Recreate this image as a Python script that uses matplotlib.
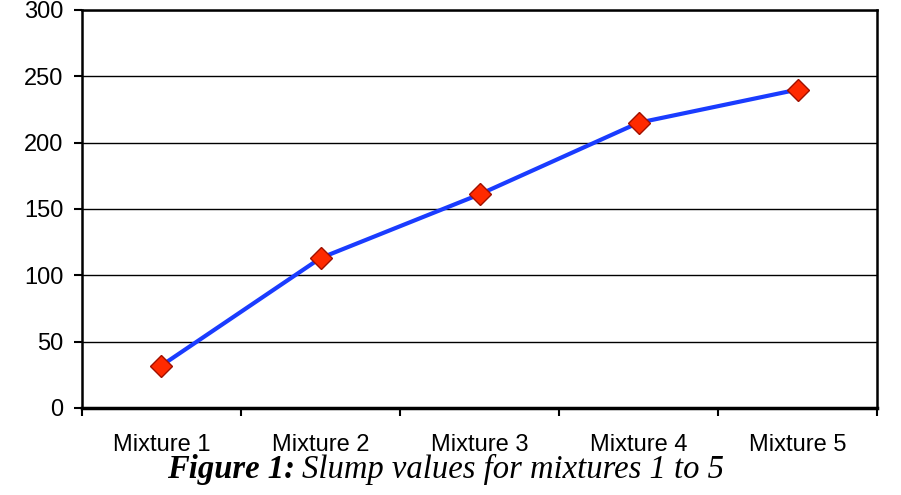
import matplotlib.pyplot as plt
import numpy as np

mixtures = ["Mixture 1", "Mixture 2", "Mixture 3", "Mixture 4", "Mixture 5"]
slump = [32, 113, 161, 215, 240]
yticks = [0, 50, 100, 150, 200, 250, 300]

fig = plt.figure(figsize=(9.01, 4.95), dpi=100)
ax = fig.add_axes([0.091, 0.1758, 0.8824, 0.804])

x = np.arange(1, len(mixtures) + 1)
ax.plot(x, slump, color="#1a3cff", linewidth=3, zorder=3)
ax.plot(x, slump, linestyle="none", marker="D", markersize=11,
        markerfacecolor="#ff2a00", markeredgecolor="#a01000",
        markeredgewidth=1, zorder=4)

ax.set_xlim(0.5, len(mixtures) + 0.5)
ax.set_ylim(0, 300)
ax.set_yticks(yticks)
ax.yaxis.grid(True, color="black", linewidth=1)
ax.set_axisbelow(True)

# category boundaries get the ticks, labels sit in the middle
ax.set_xticks(np.arange(0.5, len(mixtures) + 1, 1))
ax.set_xticklabels([])
ax.set_xticks(x, minor=True)
ax.set_xticklabels(mixtures, minor=True)
ax.tick_params(axis="x", which="minor", length=0, pad=19)
ax.tick_params(axis="x", which="major", length=6, width=1.5, color="black")
ax.tick_params(axis="y", length=6, width=1.5, pad=7.5)

for lab in ax.get_xticklabels(minor=True) + ax.get_yticklabels():
    lab.set_fontfamily("Liberation Sans")
    lab.set_fontsize(17)

for side in ["left", "right", "top"]:
    ax.spines[side].set_linewidth(1.8)
ax.spines["bottom"].set_linewidth(2.5)

fig.text(295 / 901, 0.034, "Figure 1:", ha="right", va="baseline",
         family="Liberation Serif", style="italic", weight="bold", fontsize=23.5)
fig.text(302 / 901, 0.034, "Slump values for mixtures 1 to 5", ha="left",
         va="baseline", family="Liberation Serif", style="italic", fontsize=23.5)

fig.savefig("out.png", dpi=100)
